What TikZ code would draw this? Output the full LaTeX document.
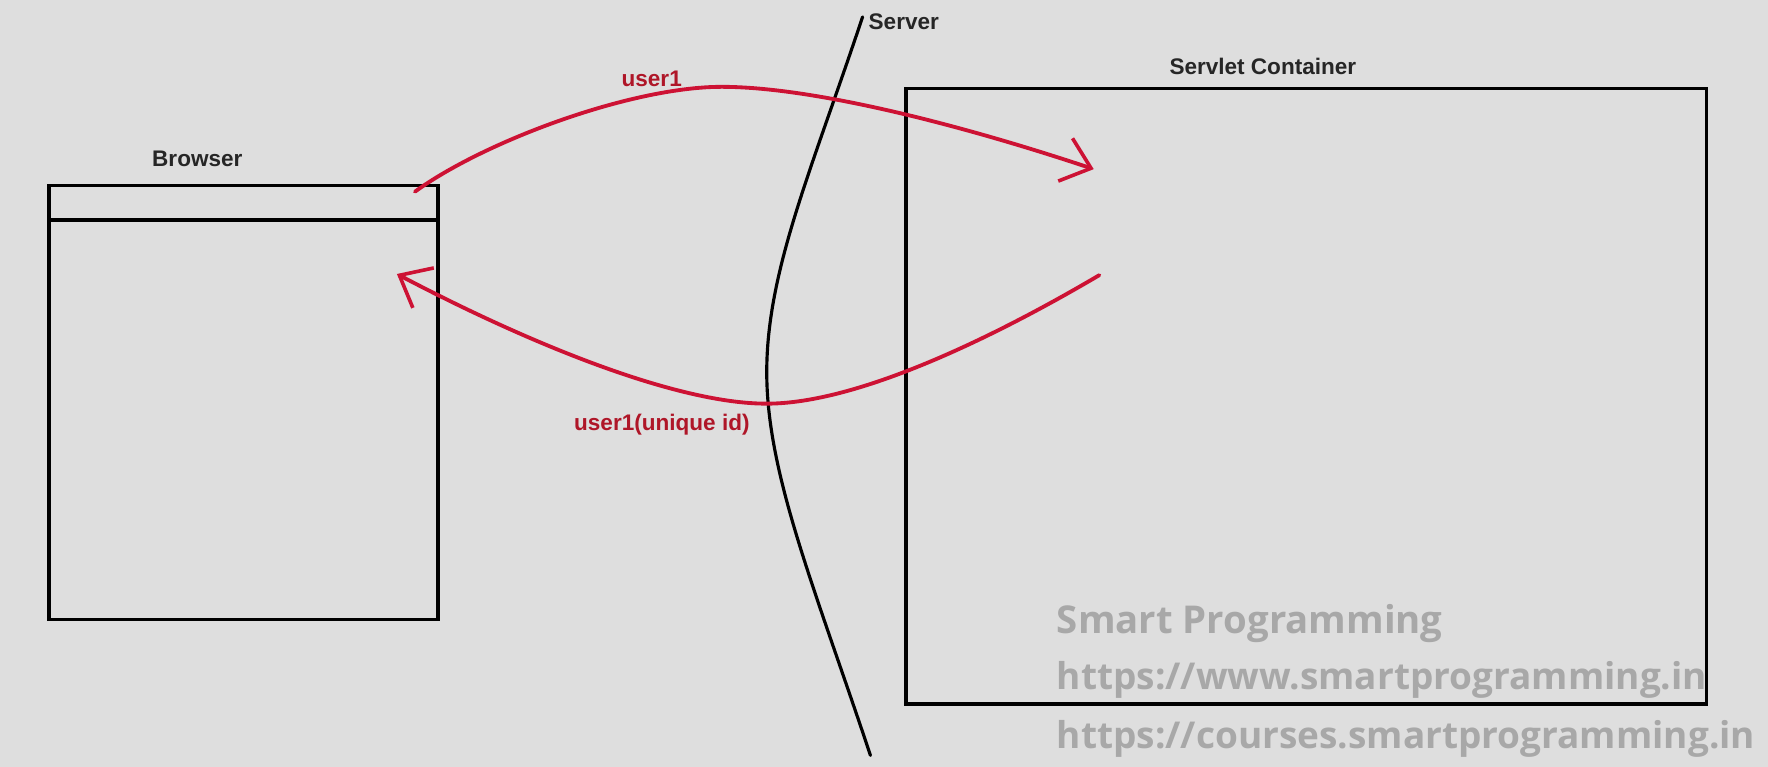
\documentclass[tikz,border=0pt]{standalone}
\usepackage{fontspec}
\setmainfont{Liberation Sans}
\newfontfamily\wmfont{Open Sans}
\usetikzlibrary{arrows.meta}
\definecolor{bgc}{RGB}{222,222,222}
\definecolor{redline}{RGB}{205,18,52}
\definecolor{redtext}{RGB}{175,22,40}
\definecolor{wmgray}{RGB}{168,168,168}
\tikzset{
  box/.style={draw=black, line width=1.5pt, anchor=north west, inner sep=0pt, fill=none},
  lbl/.style={font=\bfseries\fontsize{10}{12}\selectfont, text=black!85, inner sep=0pt},
  redlbl/.style={font=\bfseries\fontsize{10}{12}\selectfont, text=redtext, inner sep=0pt},
  wm/.style={font=\wmfont\bfseries\fontsize{17}{20}\selectfont, text=wmgray, anchor=west, inner sep=0pt},
  wmurl/.style={wm, font=\wmfont\bfseries\fontsize{16.4}{20}\selectfont},
  flow/.style={draw=redline, line width=1.7pt, line cap=round,
    -{Straight Barb[length=12pt,width=20pt,line width=1.6pt]}},
  serverline/.style={draw=black, line width=1.4pt, line cap=round}
}
\begin{document}
\begin{tikzpicture}[x=0.5pt,y=-0.5pt]
\fill[bgc] (0,0) rectangle (1568,680);
\useasboundingbox (0,0) rectangle (1568,680);
% Browser
\node[box, minimum width=172.5pt, minimum height=192.5pt] (browser) at (42,163) {};
\coordinate (bar) at (42,195);
\draw[line width=1.5pt] (bar) -- (bar -| browser.east);
\node[lbl] (browserlbl) at (175,141) {Browser};
% Servlet container
\node[box, minimum width=355pt, minimum height=273pt] (container) at (802,77) {};
\node[lbl] (containerlbl) at (1120,59) {Servlet Container};
% Server boundary
\coordinate (srvtop) at (765,15);
\coordinate (srvmid) at (680,330);
\coordinate (srvbot) at (772,670);
\draw[serverline] (srvtop) .. controls (720,150) and (680,240) .. (srvmid)
  .. controls (680,420) and (722,520) .. (srvbot);
\node[lbl, anchor=west] (serverlbl) at (770,19) {Server};
% Request
\coordinate (reqs) at (368,170);
\coordinate (reqp) at (640,77);
\coordinate (reqe) at (970,150);
\draw[flow] (reqs) .. controls (430,125) and (560,77) .. (reqp)
  .. controls (720,77) and (850,110) .. (reqe);
\node[redlbl] (reqlbl) at (578,70) {user1};
% Response
\coordinate (ress) at (975,244);
\coordinate (resp) at (680,358);
\coordinate (rese) at (352,243);
\draw[flow] (ress) .. controls (880,300) and (760,358) .. (resp)
  .. controls (600,358) and (470,305) .. (rese);
\node[redlbl] (reslbl) at (587,377) {user1(unique id)};
% Watermark
\node[wm] (wm1) at (937,553) {Smart Programming};
\node[wmurl] (wm2) at (937,603) {https://www.smartprogramming.in};
\node[wmurl] (wm3) at (937,655) {https://courses.smartprogramming.in};
\end{tikzpicture}
\end{document}
